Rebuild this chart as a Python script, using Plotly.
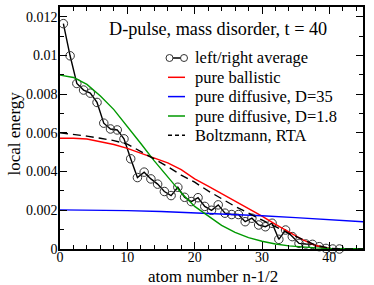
import plotly.graph_objects as go

# ---- data (values in units of 1e-3 converted below) ----
avg_x = [0.5, 1.5, 2.5, 3.5, 4.5, 5.5, 6.5, 7.5, 8.5, 9.5, 10.5, 11.5, 12.5, 13.5,
         14.5, 15.5, 16.5, 17.5, 18.5, 19.5, 20.5, 21.5, 22.5, 23.5, 24.5, 25.5,
         26.5, 27.5, 28.5, 29.5, 30.5, 31.5, 32.5, 33.5, 34.5, 35.5, 36.5, 37.5,
         38.5, 39.5, 40.5, 41.5]
avg_y = [11.64, 9.98, 8.55, 8.21, 8.05, 7.57, 6.50, 6.20, 6.15, 5.69, 4.66, 3.69,
         3.97, 3.62, 3.35, 2.97, 2.76, 3.19, 2.67, 2.45, 2.65, 2.20, 2.00, 2.28,
         1.85, 1.78, 1.78, 1.41, 1.59, 1.24, 1.15, 1.33, 0.50, 0.98, 0.64, 0.29,
         0.26, 0.24, 0.12, 0.03, 0.0, 0.0]

curve_x = [0, 2, 4, 6, 8, 10, 12, 14, 16, 18, 20, 22, 24, 26, 28, 30, 32, 34,
           36, 38, 40, 42, 45]
ballistic_y = [5.72, 5.72, 5.68, 5.55, 5.40, 5.20, 4.95, 4.70, 4.45, 4.10, 3.62,
               3.25, 2.87, 2.50, 2.10, 1.70, 1.27, 0.86, 0.48, 0.18, 0.03, 0.0, 0.0]
boltz_y = [6.00, 5.93, 5.83, 5.72, 5.60, 5.42, 5.05, 4.65, 4.25, 3.82, 3.45,
           3.00, 2.60, 2.20, 1.85, 1.52, 1.15, 0.80, 0.48, 0.20, 0.04, 0.0, 0.0]
diff18_y = [8.98, 8.86, 8.50, 7.90, 7.20, 6.35, 5.45, 4.55, 3.70, 2.90, 2.20,
            1.70, 1.22, 0.86, 0.59, 0.40, 0.26, 0.16, 0.10, 0.06, 0.03, 0.02, 0.01]
diff35_x = [0, 5, 10, 15, 20, 25, 30, 35, 40, 45]
diff35_y = [2.02, 2.01, 1.98, 1.94, 1.87, 1.80, 1.72, 1.62, 1.52, 1.41]

ytick_vals = [0, 0.002, 0.004, 0.006, 0.008, 0.010, 0.012]
ytick_text = ["0", "0.002", "0.004", "0.006", "0.008", "0.01", "0.012"]
xtick_vals = [0, 10, 20, 30, 40]

series_names = ["left/right average", "pure ballistic", "pure diffusive, D=35",
                "pure diffusive, D=1.8", "Boltzmann, RTA"]
series_colors = ["black", "#ff0000", "#0000ff", "#009900", "black"]

scale = 1e-3
def sc(v):
    return [a * scale for a in v]

FONT = "Liberation Serif"
W, H = 374, 285
ML, MR, MT, MB = 60, 11, 7, 36
PW, PH = W - ML - MR, H - MT - MB

def px(xp):  # pixel x -> paper
    return (xp - ML) / PW

def py(yp):  # pixel y -> paper
    return (H - MB - yp) / PH

fig = go.Figure()
fig.add_trace(go.Scatter(
    x=avg_x, y=sc(avg_y), mode="lines+markers", name=series_names[0],
    line=dict(color=series_colors[0], width=1.4),
    marker=dict(symbol="circle-open", size=8.5, color="#333333", line=dict(width=1)),
    cliponaxis=False, showlegend=False))
fig.add_trace(go.Scatter(x=curve_x, y=sc(ballistic_y), mode="lines",
                         name=series_names[1], showlegend=False,
                         line=dict(color=series_colors[1], width=1.4)))
fig.add_trace(go.Scatter(x=diff35_x, y=sc(diff35_y), mode="lines",
                         name=series_names[2], showlegend=False,
                         line=dict(color=series_colors[2], width=1.4)))
fig.add_trace(go.Scatter(x=curve_x, y=sc(diff18_y), mode="lines",
                         name=series_names[3], showlegend=False,
                         line=dict(color=series_colors[3], width=1.4)))
fig.add_trace(go.Scatter(x=curve_x, y=sc(boltz_y), mode="lines",
                         name=series_names[4], showlegend=False,
                         line=dict(color=series_colors[4], width=1.4, dash="8px,5px")))

axis_common = dict(showline=True, linecolor="black", linewidth=1.5, mirror="ticks",
                   ticks="inside", ticklen=7, tickwidth=1.2, tickcolor="black",
                   showgrid=False, zeroline=False, automargin=False,
                   tickfont=dict(family=FONT, size=14, color="black"))

fig.update_xaxes(range=[0, 45], tickvals=xtick_vals, ticklabelstandoff=-6,
                 minor=dict(ticks="inside", ticklen=4, dtick=2, tickcolor="black",
                            tickwidth=1, showgrid=False),
                 **axis_common)
fig.update_yaxes(range=[0, 0.0125], tickvals=ytick_vals, ticktext=ytick_text,
                 ticklabelstandoff=-2,
                 minor=dict(ticks="inside", ticklen=4, dtick=0.001, tickcolor="black",
                            tickwidth=1, showgrid=False),
                 **axis_common)

# axis titles
fig.add_annotation(text="atom number n-1/2", xref="paper", yref="paper",
                   x=px(212.5), y=py(276), xanchor="center", yanchor="middle",
                   showarrow=False, font=dict(family=FONT, size=17, color="black"))
fig.add_annotation(text="local energy", xref="paper", yref="paper", textangle=-90,
                   x=px(14), y=py(133.5), xanchor="center", yanchor="middle",
                   showarrow=False, font=dict(family=FONT, size=17, color="black"))

# title inside plot
fig.add_annotation(text="D-pulse, mass disorder, t = 40", xref="paper", yref="paper",
                   x=px(106.7), y=py(29), xanchor="left", yanchor="middle", showarrow=False,
                   font=dict(family=FONT, size=18.2, color="black"))

# custom legend
row_y = [58, 77.3, 96.6, 116, 135.3]
x0, x1, xt = 168, 185, 192.7
for i, (name, col) in enumerate(zip(series_names, series_colors)):
    yy = py(row_y[i])
    dash = "4px,3px" if i == 4 else "solid"
    fig.add_shape(type="line", xref="paper", yref="paper", x0=px(x0), x1=px(x1),
                  y0=yy, y1=yy, line=dict(color=col, width=1.5, dash=dash))
    fig.add_annotation(text=name, xref="paper", yref="paper", x=px(xt), y=yy,
                       xanchor="left", yanchor="middle", showarrow=False,
                       font=dict(family=FONT, size=16.5, color="black"))
    if i == 0:
        for cx in (169.5, 184):
            fig.add_shape(type="circle", xref="paper", yref="paper",
                          x0=px(cx - 3.5), x1=px(cx + 3.5), y0=py(row_y[0] + 3.5),
                          y1=py(row_y[0] - 3.5), fillcolor="white",
                          line=dict(color="#333333", width=1))

fig.update_layout(
    width=W, height=H,
    margin=dict(l=ML, r=MR, t=MT, b=MB),
    paper_bgcolor="white", plot_bgcolor="white",
    font=dict(family=FONT, color="black"),
    showlegend=False,
)

fig.write_html("out.html", config={"displayModeBar": False},
               post_script="document.body.style.margin='0px';document.body.style.padding='0px';")
